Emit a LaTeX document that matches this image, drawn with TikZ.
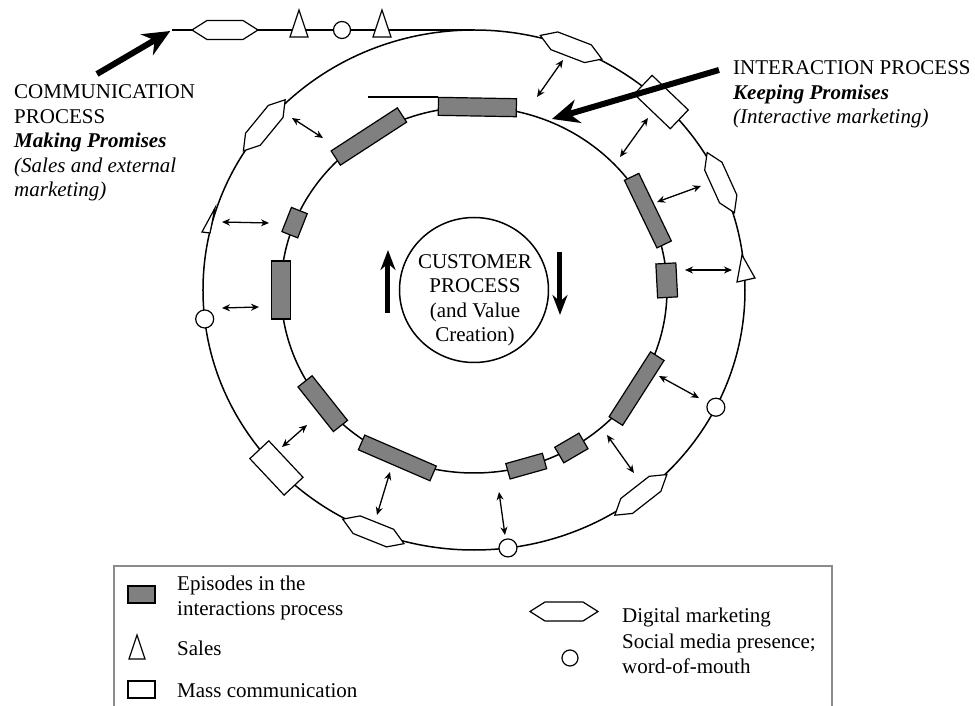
\documentclass[tikz,border=0pt]{standalone}
\usepackage{fontspec}
\setmainfont{Liberation Serif}
\usetikzlibrary{arrows.meta}

\begin{document}
\begin{tikzpicture}[x=1pt, y=1pt]

\def\orx{271}
\def\ory{260}
\def\irx{193}
\def\iry{183}
\def\crx{74.5}
\def\cry{72.5}
\definecolor{episodegray}{RGB}{128,128,128}
\definecolor{legendgray}{RGB}{140,140,140}

\tikzset{
  ring/.style={line width=1.5pt},
  episode/.style={draw, line width=1.2pt, fill=episodegray},
  whitemark/.style={draw, line width=1.2pt, fill=white},
  twoway/.style={line width=1.3pt, {Stealth[length=8pt,width=7pt]}-{Stealth[length=8pt,width=7pt]}},
  bigarrow/.style={line width=6pt, -{Stealth[length=27pt,width=24pt]}},
  turnarrow/.style={line width=5pt, -{Stealth[length=20pt,width=15pt]}},
  blocktext/.style={font=\fontsize{21}{24.5}\selectfont, inner sep=0pt}
}

\useasboundingbox (-474,-416) rectangle (501,290);
\coordinate (center) at (0,0);

% Ringe
\draw[ring] (center) ellipse [x radius=\orx, y radius=\ory];
\draw[ring] (center) ellipse [x radius=\irx, y radius=\iry];
\draw[ring] (center) ellipse [x radius=\crx, y radius=\cry];

% Tangenten oben
\coordinate (commstart) at (-302,\ory);
\coordinate (commend) at (0,\ory);
\draw[ring] (commstart) -- (commend);
\coordinate (interstart) at (-106,193);
\coordinate (interend) at (-36,193);
\draw[ring] (interstart) -- (interend);

% Episoden
\foreach \t/\len/\wid in {89/78/18, 123/79/17, 158.4/26/17, 180/58/19, 218.4/57/18, 246.6/78/16, 285.7/38/16, 300.3/28/18, 327.4/77/16, 3/34/20, 25.7/75/16}
  \draw[episode, shift={({\irx*cos(\t)},{\iry*sin(\t)})}, rotate=\t+90] ({-\len/2},{-\wid/2}) rectangle ({\len/2},{\wid/2});

% Digital marketing
\foreach \t in {140.7, 69, 24.4, -52, 248.2}
  \draw[whitemark, shift={({\orx*cos(\t)},{\ory*sin(\t)})}, rotate=\t+90] (-33,0) -- (-18,9.5) -- (18,9.5) -- (33,0) -- (18,-9.5) -- (-18,-9.5) -- cycle;
\draw[whitemark, shift={(-249,\ory)}] (-33,0) -- (-18,9.5) -- (18,9.5) -- (33,0) -- (18,-9.5) -- (-18,-9.5) -- cycle;

% Massenkommunikation
\foreach \t in {223.2, 46.3}
  \draw[whitemark, shift={({\orx*cos(\t)},{\ory*sin(\t)})}, rotate=\t+90] (-25,-13) rectangle (25,13);

% Social media
\foreach \t in {186.4, 277.2, -26.8}
  \draw[whitemark] ({\orx*cos(\t)},{\ory*sin(\t)}) circle (9);
\draw[whitemark] (-132,\ory) circle (8.5);

% Verkauf
\draw[whitemark] (-184,253) -- (-166,253) -- (-175,280) -- cycle;
\draw[whitemark] (-101,253) -- (-83,253) -- (-92,280) -- cycle;
\draw[whitemark] (-272,58) -- (-264,57) -- (-259,82) -- cycle;
\draw[whitemark] (263,8) -- (281,12) -- (268,35) -- cycle;

% Wechselpfeile
\foreach \a/\b/\c/\d in {-182/172/-151/152, -252/68/-205/67, -252/-18/-215/-17, -192/-157/-167/-135, -84/-182/-97/-225, 25/-202/31/-245, 133/-145/160/-183, 185/-86/225/-108, 211/20/258/20, 183/88/227/104, 146/133/174/172, 63/193/89/230}
  \draw[twoway] (\a,\b) -- (\c,\d);

% dicke Pfeile
\coordinate (intertip) at (78,171);
\draw[bigarrow, shorten >=2pt] (-377,216) -- (commstart);
\draw[bigarrow] (245,220) -- (intertip);
\draw[turnarrow] (-86,-23) -- (-86,40);
\draw[turnarrow] (86,38) -- (86,-25);

% Texte
\node[blocktext, anchor=base west, align=left] (commtext) at (-460,93) {COMMUNICATION\\PROCESS\\\textbf{\textit{Making Promises}}\\\textit{(Sales and external}\\\textit{marketing)}};
\node[blocktext, anchor=base west, align=left] (intertext) at (259,166) {INTERACTION PROCESS\\\textbf{\textit{Keeping Promises}}\\\textit{(Interactive marketing)}};
\node[blocktext, anchor=base, align=center] (custtext) at (1,-52) {CUSTOMER\\PROCESS\\(and Value\\Creation)};

% Legende
\draw[legendgray, line width=1.5pt] (-360,-416) -- (-360,-276) -- (358,-276) -- (358,-416);
\draw[episode] (-346,-296) rectangle (-319,-313);
\draw[whitemark] (-345,-369) -- (-329,-369) -- (-337,-345) -- cycle;
\draw[whitemark] (-346,-391) rectangle (-319,-408);
\draw[whitemark, shift={(90,-321.5)}] (-34,0) -- (-19,9.5) -- (19,9.5) -- (34,0) -- (19,-9.5) -- (-19,-9.5) -- cycle;
\draw[whitemark] (96,-368) circle (8);
\node[blocktext, anchor=base west, align=left] (episodetext) at (-297,-325) {Episodes in the\\interactions process};
\node[blocktext, anchor=base west] (salestext) at (-297,-365) {Sales};
\node[blocktext, anchor=base west] (masstext) at (-297,-407) {Mass communication};
\node[blocktext, anchor=base west] (digitext) at (148,-332) {Digital marketing};
\node[blocktext, anchor=base west, align=left] (socialtext) at (148,-383) {Social media presence;\\word-of-mouth};

\end{tikzpicture}
\end{document}
